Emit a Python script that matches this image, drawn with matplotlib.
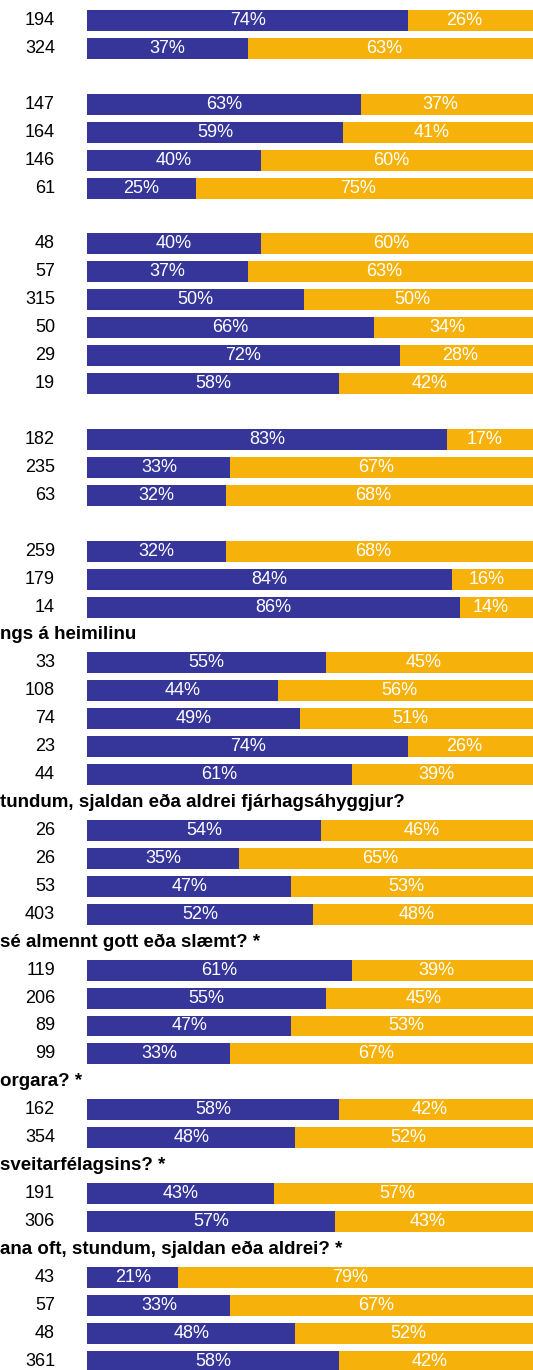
import matplotlib
matplotlib.use("Agg")
import matplotlib.pyplot as plt
import matplotlib.transforms as mtransforms

plt.rcParams['font.family'] = ['Liberation Sans', 'DejaVu Sans']

# Group headers (left part is cut off in the source image) and rows per group
headers = [
    "",
    "",
    "",
    "",
    "",
    "ngs á heimilinu",
    "tundum, sjaldan eða aldrei fjárhagsáhyggjur?",
    "sé almennt gott eða slæmt? *",
    "orgara? *",
    "sveitarfélagsins? *",
    "ana oft, stundum, sjaldan eða aldrei? *",
]
counts = [
    [194, 324],
    [147, 164, 146, 61],
    [48, 57, 315, 50, 29, 19],
    [182, 235, 63],
    [259, 179, 14],
    [33, 108, 74, 23, 44],
    [26, 26, 53, 403],
    [119, 206, 89, 99],
    [162, 354],
    [191, 306],
    [43, 57, 48, 361],
]
share_a = [
    [74, 37],
    [63, 59, 40, 25],
    [40, 37, 50, 66, 72, 58],
    [83, 33, 32],
    [32, 84, 86],
    [55, 44, 49, 74, 61],
    [54, 35, 47, 52],
    [61, 55, 47, 33],
    [58, 48],
    [43, 57],
    [21, 33, 48, 58],
]

blue = "#36359a"
orange = "#f6b20b"

W, H = 533, 1370
fig = plt.figure(figsize=(W / 100, H / 100), dpi=100)

# one slot per bar row plus one slot per header (first header sits above the image)
pitch = 27.93
first_center = 20.5
top = -first_center / pitch
bottom = top + H / pitch

left_px = 87.3
ax = fig.add_axes([left_px / W, 0, 1 - left_px / W, 1])
xmax = 100 * (W - left_px) / (521 - left_px)
ax.set_xlim(0, xmax)
ax.set_ylim(bottom, top)
ax.axis("off")

trans = mtransforms.blended_transform_factory(fig.transFigure, ax.transData)

slot = 0
for gi, (head, ns, vals) in enumerate(zip(headers, counts, share_a)):
    if gi > 0:
        if head:
            ax.text(0, slot, head, transform=trans, ha="left", va="center",
                    fontsize=13.5, fontweight="bold", color="black")
        slot += 1
    for n, v in zip(ns, vals):
        ax.barh(slot, v, left=0, height=0.75, color=blue, linewidth=0)
        ax.barh(slot, xmax - v, left=v, height=0.75, color=orange, linewidth=0)
        ax.text(v / 2, slot, f"{v}%", ha="center", va="center",
                color="white", fontsize=13)
        ax.text((v + 100) / 2, slot, f"{100 - v}%", ha="center", va="center",
                color="white", fontsize=13)
        ax.text(55 / W, slot, str(n), transform=trans, ha="right", va="center",
                fontsize=13, color="black")
        slot += 1

fig.savefig("out.png", dpi=100)
